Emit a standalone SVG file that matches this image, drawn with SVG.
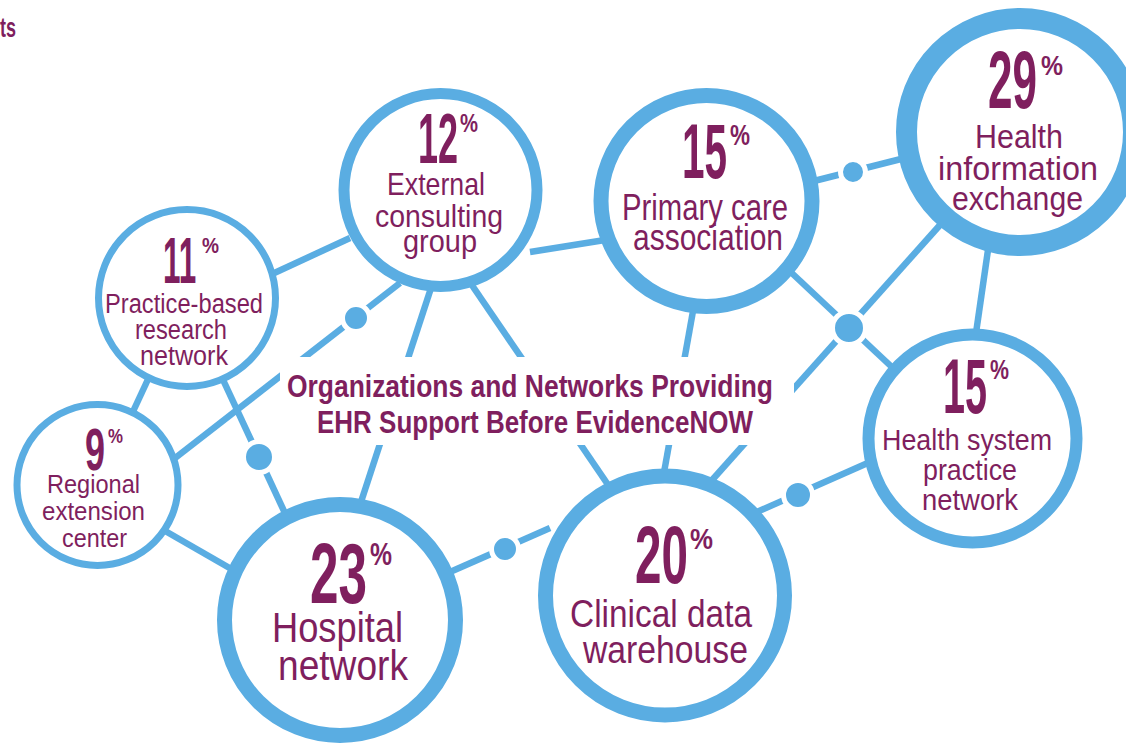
<svg xmlns="http://www.w3.org/2000/svg" width="1126" height="744" viewBox="0 0 1126 744">
<style>
.ring{fill:#fff;stroke:#5aade2}
.ln{stroke:#5aade2;stroke-width:6.5;fill:none}
.dot{fill:#5aade2;stroke:#fff;stroke-width:5}
text{font-family:"Liberation Sans",Arial,sans-serif;fill:#7f1f5e}
.num{font-weight:bold;text-anchor:start}
.lbl{text-anchor:middle}
.ttl{font-weight:bold;text-anchor:middle}
</style>
<rect width="1126" height="744" fill="#fff"/>
<text x="0" y="37" font-size="27" font-weight="bold" textLength="16" lengthAdjust="spacingAndGlyphs">ts</text>
<g id="connectors">
<line class="ln" x1="270" y1="275" x2="350" y2="238"/>
<line class="ln" x1="530" y1="252" x2="605" y2="240"/>
<line class="ln" x1="810" y1="182" x2="905" y2="158"/>
<line class="ln" x1="780" y1="262" x2="895" y2="370"/>
<line class="ln" x1="940" y1="225" x2="705" y2="488"/>
<line class="ln" x1="988" y1="250" x2="975" y2="340"/>
<line class="ln" x1="870" y1="462" x2="750" y2="515"/>
<line class="ln" x1="550" y1="528" x2="450" y2="572"/>
<line class="ln" x1="695" y1="300" x2="663" y2="478"/>
<line class="ln" x1="465" y1="275" x2="615" y2="495"/>
<line class="ln" x1="432" y1="285" x2="360" y2="505"/>
<line class="ln" x1="400" y1="283" x2="170" y2="462"/>
<line class="ln" x1="150" y1="375" x2="130" y2="418"/>
<line class="ln" x1="218" y1="369" x2="290" y2="524"/>
<line class="ln" x1="160" y1="528" x2="240" y2="574"/>
<circle class="dot" cx="356" cy="318" r="13.5"/>
<circle class="dot" cx="259" cy="457" r="15.5"/>
<circle class="dot" cx="853" cy="172" r="12.5"/>
<circle class="dot" cx="849" cy="328" r="16.5"/>
<circle class="dot" cx="798" cy="495" r="14.5"/>
<circle class="dot" cx="505" cy="549" r="13.5"/>
</g>
<g id="title">
<rect x="280" y="357" width="514" height="88" fill="#fff"/>
<text class="ttl" x="530" y="397" font-size="32" textLength="486" lengthAdjust="spacingAndGlyphs">Organizations and Networks Providing</text>
<text class="ttl" x="535" y="433" font-size="32" textLength="436" lengthAdjust="spacingAndGlyphs">EHR Support Before EvidenceNOW</text>
</g>
<g id="node-practice">
<circle class="ring" cx="187" cy="298" r="88.5" stroke-width="7"/>
<text class="num" transform="translate(163 283) scale(0.492 1)" font-size="64">11</text>
<text class="num" transform="translate(202 253) scale(0.869 1)" font-size="22">%</text>
<text class="lbl" x="184" y="313" font-size="27" textLength="158" lengthAdjust="spacingAndGlyphs">Practice-based</text>
<text class="lbl" x="181" y="339" font-size="27" textLength="92" lengthAdjust="spacingAndGlyphs">research</text>
<text class="lbl" x="184" y="365" font-size="27" textLength="88" lengthAdjust="spacingAndGlyphs">network</text>
</g>
<g id="node-regional">
<circle class="ring" cx="97.5" cy="485" r="80.5" stroke-width="7"/>
<text class="num" transform="translate(85 470) scale(0.6 1)" font-size="60">9</text>
<text class="num" transform="translate(108 443) scale(0.803 1)" font-size="21">%</text>
<text class="lbl" x="93.5" y="493" font-size="25" textLength="93" lengthAdjust="spacingAndGlyphs">Regional</text>
<text class="lbl" x="93.5" y="520" font-size="25" textLength="103" lengthAdjust="spacingAndGlyphs">extension</text>
<text class="lbl" x="94.5" y="547" font-size="25" textLength="65" lengthAdjust="spacingAndGlyphs">center</text>
</g>
<g id="node-external">
<circle class="ring" cx="440.5" cy="190" r="96.5" stroke-width="11"/>
<text class="num" transform="translate(418 163) scale(0.514 1)" font-size="70">12</text>
<text class="num" transform="translate(460 132) scale(0.779 1)" font-size="26">%</text>
<text class="lbl" x="436" y="195" font-size="32" textLength="98" lengthAdjust="spacingAndGlyphs">External</text>
<text class="lbl" x="439" y="227" font-size="32" textLength="128" lengthAdjust="spacingAndGlyphs">consulting</text>
<text class="lbl" x="440" y="252" font-size="32" textLength="74" lengthAdjust="spacingAndGlyphs">group</text>
</g>
<g id="node-primary">
<circle class="ring" cx="706.5" cy="201" r="105.5" stroke-width="15"/>
<text class="num" transform="translate(682 178) scale(0.526 1)" font-size="77">15</text>
<text class="num" transform="translate(730 145) scale(0.75 1)" font-size="30">%</text>
<text class="lbl" x="705" y="220" font-size="36" textLength="166" lengthAdjust="spacingAndGlyphs">Primary care</text>
<text class="lbl" x="708" y="250" font-size="36" textLength="150" lengthAdjust="spacingAndGlyphs">association</text>
</g>
<g id="node-hie">
<circle class="ring" cx="1020" cy="132" r="113.5" stroke-width="21"/>
<text class="num" transform="translate(988 108) scale(0.544 1)" font-size="81">29</text>
<text class="num" transform="translate(1041 75) scale(0.917 1)" font-size="27">%</text>
<text class="lbl" x="1019" y="148" font-size="34" textLength="88" lengthAdjust="spacingAndGlyphs">Health</text>
<text class="lbl" x="1018" y="180" font-size="34" textLength="160" lengthAdjust="spacingAndGlyphs">information</text>
<text class="lbl" x="1017.5" y="210" font-size="34" textLength="131" lengthAdjust="spacingAndGlyphs">exchange</text>
</g>
<g id="node-healthsystem">
<circle class="ring" cx="972.5" cy="438.5" r="104" stroke-width="12"/>
<text class="num" transform="translate(943 413) scale(0.514 1)" font-size="77">15</text>
<text class="num" transform="translate(990 379) scale(0.763 1)" font-size="28">%</text>
<text class="lbl" x="967" y="450" font-size="30" textLength="170" lengthAdjust="spacingAndGlyphs">Health system</text>
<text class="lbl" x="970" y="480" font-size="30" textLength="94" lengthAdjust="spacingAndGlyphs">practice</text>
<text class="lbl" x="970" y="510" font-size="30" textLength="96" lengthAdjust="spacingAndGlyphs">network</text>
</g>
<g id="node-hospital">
<circle class="ring" cx="340" cy="620" r="115.5" stroke-width="15"/>
<text class="num" transform="translate(310 603) scale(0.603 1)" font-size="85">23</text>
<text class="num" transform="translate(370 565) scale(0.773 1)" font-size="32">%</text>
<text class="lbl" x="337.5" y="642" font-size="42" textLength="131" lengthAdjust="spacingAndGlyphs">Hospital</text>
<text class="lbl" x="343" y="680" font-size="42" textLength="130" lengthAdjust="spacingAndGlyphs">network</text>
</g>
<g id="node-cdw">
<circle class="ring" cx="665" cy="595.5" r="119.5" stroke-width="15"/>
<text class="num" transform="translate(635 583) scale(0.588 1)" font-size="81">20</text>
<text class="num" transform="translate(690 549) scale(0.862 1)" font-size="30">%</text>
<text class="lbl" x="661" y="627" font-size="38" textLength="182" lengthAdjust="spacingAndGlyphs">Clinical data</text>
<text class="lbl" x="665.5" y="663" font-size="38" textLength="165" lengthAdjust="spacingAndGlyphs">warehouse</text>
</g>
</svg>
